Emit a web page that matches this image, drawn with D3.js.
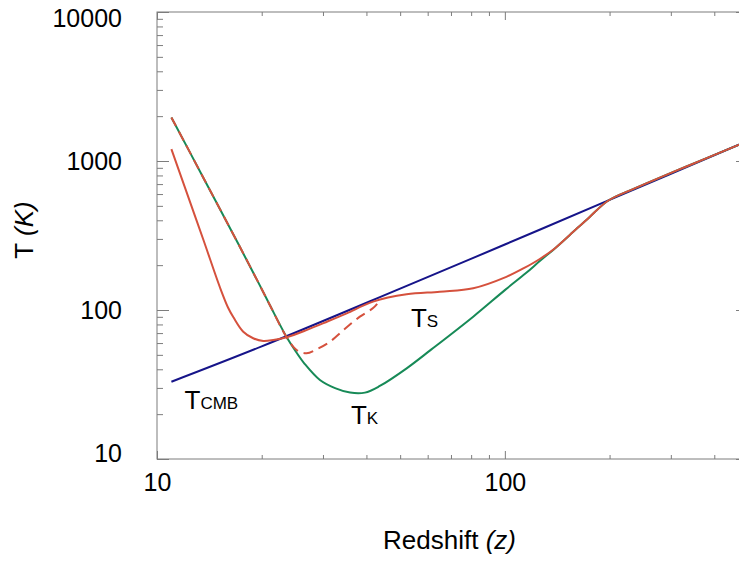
<!DOCTYPE html>
<html>
<head>
<meta charset="utf-8">
<script src="https://cdn.jsdelivr.net/npm/d3@7"></script>
<style>
    body { margin: 0; background: #fff; }
    svg text { font-family: 'Liberation Sans', Arial, Helvetica, sans-serif; fill: #000; }
</style>
</head>
<body>
<svg id="temps" width="739" height="561"></svg>
<script>
// T_CMB (blue)
const zCMB = [11, 20, 50, 100, 200, 500]
const tCMB = [33, 57, 139, 275, 548, 1365]

// T_K (green)
const zKin = [11, 13.6, 16.9, 19.7, 21.1, 23.6, 24.9, 26.6, 29.4, 32.5, 35.9, 39.6, 43.7, 52.2, 61.5, 81.1, 100, 115, 126, 140, 154, 175, 198, 230, 255, 330, 470, 500]
const tKin = [1960, 770, 295, 148, 108, 65.6, 53.9, 43.4, 33.9, 29.9, 27.9, 27.9, 30.9, 40.6, 54.4, 90.2, 136, 177, 213, 262, 320, 420, 541, 638, 708, 912, 1283, 1365]

// T_S (red, solid)
const zSpin = [11, 12, 13.6, 15.2, 16, 16.6, 17.7, 18.9, 20.2, 21.6, 23.6, 27, 31, 35.1, 41.8, 52.2, 65, 81.1, 101, 113, 126, 140, 154, 175, 198, 230, 255, 330, 470, 500]
const tSpin = [1200, 675, 295, 140, 104, 89, 71.5, 64.6, 62, 62.9, 65.6, 73.5, 84, 95, 113.8, 127.4, 132.8, 140, 167, 190, 220, 262, 320, 420, 541, 638, 708, 912, 1283, 1365]

// T_S (red, dashed)
const zSpinAlt = [11, 13.6, 16.9, 19.7, 21.1, 23.6, 25.2, 26.9, 29, 31.4, 34.5, 38.3, 41.8, 44]
const tSpinAlt = [1960, 770, 295, 148, 108, 65.6, 53.9, 51.2, 55, 61.2, 74, 90.2, 103, 118]

const xMajor = [10, 100]
const xMinor = [20, 30, 40, 50, 60, 70, 80, 90, 200, 300, 400, 500]
const yMajor = [10, 100, 1000, 10000]
const yMinor = [20, 30, 40, 50, 60, 70, 80, 90, 200, 300, 400, 500, 600, 700, 800, 900,
    2000, 3000, 4000, 5000, 6000, 7000, 8000, 9000]

const labels = [
    {main: 'T', sub: 'CMB', z: 12, t: 21.7},
    {main: 'T', sub: 'K', z: 36.1, t: 17.2},
    {main: 'T', sub: 'S', z: 53.7, t: 76.9}
]

function main() {
    let svg = d3.select('#temps'),
        margin = {top: 12, bottom: 102, left: 157, right: -9},
        width = svg.attr('width') - margin.left - margin.right,
        height = svg.attr('height') - margin.top - margin.bottom,
        g = svg.append('g').attr('transform', 'translate(' + margin.left + ',' + margin.top + ')')

    let x = d3.scaleLog().domain([10, 500]).range([0, width]),
        y = d3.scaleLog().domain([10, 10000]).range([height, 0])

    const axisColor = '#7d7d7d'
    const style = sel => {
        sel.select('.domain').remove()
        sel.selectAll('line').attr('stroke', axisColor)
        sel.selectAll('text').attr('font-size', 25).attr('fill', '#000')
    }

    // bottom / top
    g.append('g').attr('transform', 'translate(0,' + height + ')')
        .call(d3.axisBottom(x).tickValues(xMinor).tickSize(-4).tickFormat('')).call(style)
    g.append('g').attr('transform', 'translate(0,' + height + ')')
        .call(d3.axisBottom(x).tickValues(xMajor).tickSize(-8).tickPadding(14).tickFormat(d3.format('d'))).call(style)
    g.append('g')
        .call(d3.axisTop(x).tickValues(xMinor).tickSize(-4).tickFormat('')).call(style)
    g.append('g')
        .call(d3.axisTop(x).tickValues(xMajor).tickSize(-8).tickFormat('')).call(style)

    // left / right
    g.append('g')
        .call(d3.axisLeft(y).tickValues(yMinor).tickSize(-6).tickFormat('')).call(style)
    g.append('g')
        .call(d3.axisLeft(y).tickValues(yMajor).tickSize(-12).tickPadding(35).tickFormat(d3.format('d')))
        .call(style)
        .selectAll('text')
        .attr('dy', d => d === 10000 ? '0.58em' : d === 10 ? '0.1em' : '0.32em')
    g.append('g').attr('transform', 'translate(' + width + ',0)')
        .call(d3.axisRight(y).tickValues(yMinor).tickSize(-6).tickFormat('')).call(style)
    g.append('g').attr('transform', 'translate(' + width + ',0)')
        .call(d3.axisRight(y).tickValues(yMajor).tickSize(-12).tickFormat('')).call(style)

    g.append('rect')
        .attr('width', width)
        .attr('height', height)
        .attr('fill', 'none')
        .attr('stroke', axisColor)
        .attr('stroke-width', 1)

    let line = d3.line()
        .curve(d3.curveCatmullRom.alpha(0.5))
        .x(d => x(d[0]))
        .y(d => y(d[1]))

    const series = [
        {z: zCMB, t: tCMB, color: '#161489', dash: null},
        {z: zKin, t: tKin, color: '#178a57', dash: null},
        {z: zSpin, t: tSpin, color: '#d5513d', dash: null},
        {z: zSpinAlt, t: tSpinAlt, color: '#d5513d', dash: '10,6'}
    ]

    g.selectAll('.curve')
        .data(series)
        .enter().append('path')
        .attr('class', 'curve')
        .attr('fill', 'none')
        .attr('stroke', d => d.color)
        .attr('stroke-width', 2)
        .attr('stroke-dasharray', d => d.dash)
        .attr('d', d => line(d.z.map((v, i) => [v, d.t[i]])))

    let lab = g.selectAll('.lab')
        .data(labels)
        .enter().append('text')
        .attr('class', 'lab')
        .attr('x', d => x(d.z))
        .attr('y', d => y(d.t))
        .attr('font-size', 26)
    lab.append('tspan').text(d => d.main)
    lab.append('tspan').attr('font-size', 17).text(d => d.sub)

    // axis titles
    let xt = svg.append('text')
        .attr('text-anchor', 'middle')
        .attr('x', margin.left + width / 2 - 3)
        .attr('y', 549)
        .attr('font-size', 26)
    xt.append('tspan').text('Redshift ')
    xt.append('tspan').attr('font-style', 'italic').text('(z)')

    let yt = svg.append('text')
        .attr('text-anchor', 'middle')
        .attr('transform', 'translate(33,230) rotate(-90)')
        .attr('font-size', 26)
    yt.append('tspan').text('T ')
    yt.append('tspan').attr('font-style', 'italic').text('(K)')
}

main()
</script>
</body>
</html>
